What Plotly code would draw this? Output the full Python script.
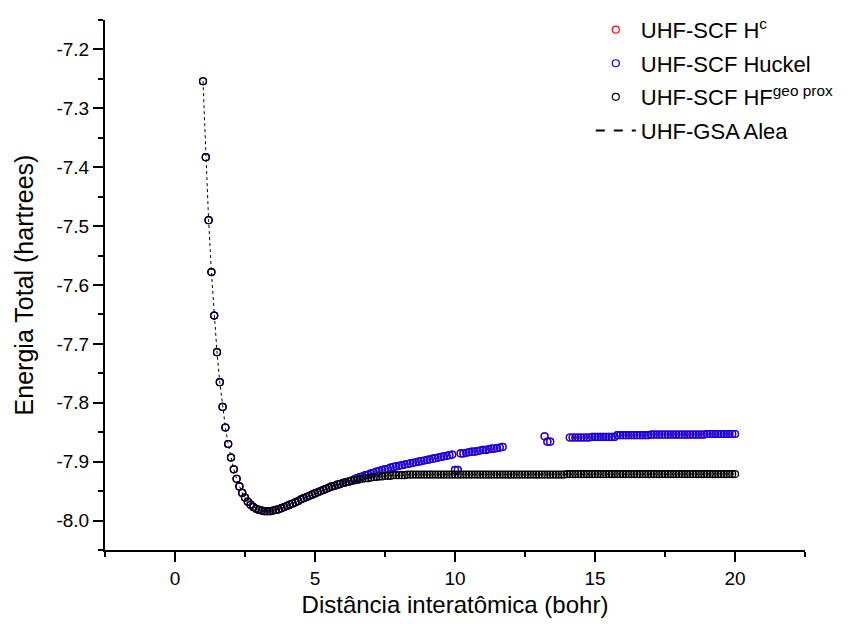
import plotly.graph_objects as go

# Interatomic distance grid (bohr), 1.0 to 20.0 in steps of 0.1
distance = [round(1.0 + 0.1 * i, 1) for i in range(191)]

# UHF-SCF with HF geometry-proximity guess (also followed by UHF-GSA)
hf_geo_energy = [
    -7.254, -7.383, -7.490, -7.578, -7.652, -7.714, -7.765, -7.807, -7.842, -7.870,
    -7.893, -7.913, -7.929, -7.942, -7.953, -7.961, -7.968, -7.973, -7.977, -7.980,
    -7.982, -7.983, -7.984, -7.984, -7.984, -7.983, -7.982, -7.981, -7.979, -7.977,
    -7.975, -7.973, -7.971, -7.969, -7.967, -7.964, -7.962, -7.960, -7.958, -7.956,
    -7.954, -7.952, -7.950, -7.948, -7.946, -7.944, -7.942, -7.941, -7.939, -7.938,
    -7.936, -7.935, -7.934, -7.933, -7.932, -7.931, -7.930, -7.929, -7.928, -7.928,
    -7.927, -7.926, -7.926, -7.925, -7.925, -7.924, -7.924, -7.924, -7.923, -7.923,
    -7.923, -7.923, -7.923, -7.922, -7.922, -7.922, -7.922, -7.922, -7.922, -7.922,
    -7.922, -7.922, -7.922, -7.922, -7.922, -7.922, -7.922, -7.922, -7.922, -7.922,
    -7.922, -7.922, -7.922, -7.922, -7.922, -7.922, -7.922, -7.922, -7.922, -7.922,
    -7.922, -7.922, -7.922, -7.922, -7.922, -7.922, -7.922, -7.922, -7.922, -7.922,
    -7.922, -7.922, -7.922, -7.922, -7.922, -7.922, -7.922, -7.922, -7.922, -7.922,
    -7.922, -7.922, -7.922, -7.922, -7.922, -7.922, -7.922, -7.922, -7.922, -7.922,
    -7.921, -7.921, -7.921, -7.921, -7.921, -7.921, -7.921, -7.921, -7.921, -7.921,
    -7.921, -7.921, -7.921, -7.921, -7.921, -7.921, -7.921, -7.921, -7.921, -7.921,
    -7.921, -7.921, -7.921, -7.921, -7.921, -7.921, -7.921, -7.921, -7.921, -7.921,
    -7.921, -7.921, -7.921, -7.921, -7.921, -7.921, -7.921, -7.921, -7.921, -7.921,
    -7.921, -7.921, -7.921, -7.921, -7.921, -7.921, -7.921, -7.921, -7.921, -7.921,
    -7.921, -7.921, -7.921, -7.921, -7.921, -7.921, -7.921, -7.921, -7.921, -7.921,
    -7.921,
]

# UHF-SCF with Huckel guess (None = no converged point)
huckel_energy = [
    -7.254, -7.383, -7.490, -7.578, -7.652, -7.714, -7.765, -7.807, -7.842, -7.870,
    -7.893, -7.913, -7.929, -7.942, -7.953, -7.961, -7.968, -7.973, -7.977, -7.980,
    -7.982, -7.983, -7.984, -7.984, -7.984, -7.983, -7.982, -7.981, -7.979, -7.977,
    -7.975, -7.973, -7.971, -7.969, -7.967, -7.964, -7.962, -7.960, -7.958, -7.956,
    -7.954, -7.952, -7.950, -7.948, -7.946, -7.944, -7.942, -7.941, -7.939, -7.938,
    -7.936, -7.935, -7.934, -7.932, -7.930, -7.928, -7.926, -7.925, -7.923, -7.922,
    -7.920, -7.919, -7.917, -7.916, -7.914, -7.913, -7.912, -7.910, -7.909, -7.908,
    -7.907, -7.906, -7.905, -7.904, -7.903, -7.902, -7.901, -7.900, -7.899, -7.898,
    -7.897, -7.896, -7.895, -7.894, -7.893, -7.892, -7.891, -7.890, -7.889, -7.888,
    -7.914, -7.914, -7.886, -7.886, -7.885, -7.884, -7.883, -7.883, -7.882, -7.881,
    -7.880, -7.880, -7.879, -7.878, -7.878, -7.877, -7.876, -7.875, None, None,
    None, None, None, None, None, None, None, None, None, None,
    None, None, -7.857, -7.866, -7.866, None, None, None, None, None,
    None, -7.859, -7.859, -7.859, -7.859, -7.859, -7.859, -7.859, -7.859, -7.858,
    -7.858, -7.858, -7.858, -7.858, -7.858, -7.858, -7.858, -7.858, -7.855, -7.855,
    -7.855, -7.855, -7.855, -7.855, -7.855, -7.855, -7.855, -7.855, -7.855, -7.855,
    -7.854, -7.854, -7.854, -7.854, -7.854, -7.854, -7.854, -7.854, -7.854, -7.854,
    -7.854, -7.854, -7.854, -7.854, -7.854, -7.854, -7.854, -7.854, -7.854, -7.854,
    -7.853, -7.853, -7.853, -7.853, -7.853, -7.853, -7.853, -7.853, -7.853, -7.853,
    -7.853,
]

# UHF-SCF with core Hamiltonian guess: lies on the Huckel results
hc_energy = list(huckel_energy)

x_tick_vals = [0, 5, 10, 15, 20]
x_tick_text = ["0", "5", "10", "15", "20"]
y_tick_vals = [-8.0, -7.9, -7.8, -7.7, -7.6, -7.5, -7.4, -7.3, -7.2]
y_tick_text = ["-8.0", "-7.9", "-7.8", "-7.7", "-7.6", "-7.5", "-7.4", "-7.3", "-7.2"]

FONT = "Liberation Sans, Arial, sans-serif"
NARROW = "Liberation Sans Narrow, Arial Narrow, Liberation Sans, Arial, sans-serif"


def open_circles(color):
    return dict(symbol="circle-open", size=7, color=color, line=dict(width=1.2, color=color))


fig = go.Figure()

# UHF-GSA curve drawn as a thin dotted line through the points
fig.add_trace(go.Scatter(
    x=distance, y=hf_geo_energy, mode="lines",
    line=dict(color="black", width=1, dash="dot"),
    showlegend=False, legendgroup="gsa", hoverinfo="skip",
))
fig.add_trace(go.Scatter(
    x=distance, y=hc_energy, mode="markers", name="UHF-SCF H<sup>c</sup>",
    marker=open_circles("#ff0000"), legendgroup="hc",
))
fig.add_trace(go.Scatter(
    x=distance, y=huckel_energy, mode="markers", name="UHF-SCF Huckel",
    marker=open_circles("#0000ff"), legendgroup="huckel",
))
fig.add_trace(go.Scatter(
    x=distance, y=hf_geo_energy, mode="markers", name="UHF-SCF HF<sup>geo prox</sup>",
    marker=open_circles("#000000"), legendgroup="geo",
))
# legend entry for the UHF-GSA line
fig.add_trace(go.Scatter(
    x=[None], y=[None], mode="lines", name="UHF-GSA Alea",
    line=dict(color="black", width=2, dash="dash"), legendgroup="gsa",
))

fig.update_layout(
    width=857, height=626,
    margin=dict(l=105, r=52, t=20, b=76, autoexpand=False),
    paper_bgcolor="white", plot_bgcolor="white",
    font=dict(family=FONT, color="black"),
    legend=dict(
        x=0.694, y=1.021, xanchor="left", yanchor="top",
        bgcolor="rgba(0,0,0,0)", font=dict(size=22, family=FONT),
        tracegroupgap=2, itemwidth=40,
    ),
    xaxis=dict(
        range=[-2.5, 22.5], tickvals=x_tick_vals, ticktext=x_tick_text,
        showgrid=False, zeroline=False,
        showline=True, linecolor="black", linewidth=2,
        ticks="outside", ticklen=10, tickwidth=2, tickcolor="black",
        tickfont=dict(size=19, family=NARROW),
        minor=dict(dtick=2.5, tick0=0, ticks="outside", ticklen=5, tickwidth=2, tickcolor="black"),
        title=dict(text="Distância interatômica (bohr)", font=dict(size=24, family=NARROW), standoff=8),
    ),
    yaxis=dict(
        range=[-8.05, -7.15], tickvals=y_tick_vals, ticktext=y_tick_text,
        showgrid=False, zeroline=False,
        showline=True, linecolor="black", linewidth=2,
        ticks="outside", ticklen=10, tickwidth=2, tickcolor="black",
        tickfont=dict(size=19, family=FONT),
        minor=dict(dtick=0.05, tick0=-8.0, ticks="outside", ticklen=5, tickwidth=2, tickcolor="black"),
        title=dict(text="Energia Total (hartrees)", font=dict(size=25, family=FONT), standoff=16),
    ),
)

fig.write_html("out.html")
